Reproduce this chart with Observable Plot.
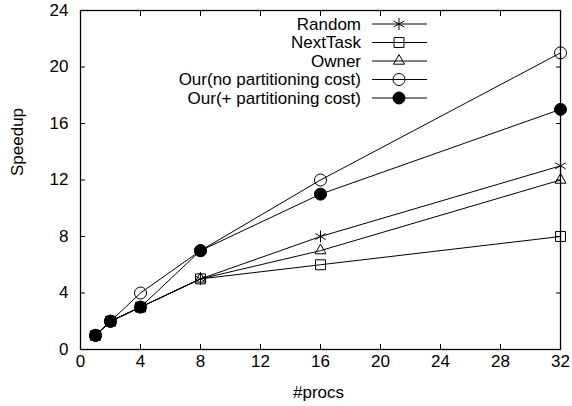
<!DOCTYPE html>
<html><head><meta charset="utf-8">
<script src="https://cdn.jsdelivr.net/npm/d3@7"></script>
<script src="https://cdn.jsdelivr.net/npm/@observablehq/plot@0.6"></script>
<style>
body{margin:0;background:#fff}
#c{position:relative;width:572px;height:406px;font-family:"Liberation Sans",Arial,sans-serif}
#leg{position:absolute;left:0;top:0}
</style>
</head><body><div id="c"></div>
<script>
const procs = [1, 2, 4, 8, 16, 32];
const seriesNames = ["Random", "NextTask", "Owner", "Our(no partitioning cost)", "Our(+ partitioning cost)"];
const random = [1, 2, 3, 5, 8, 13];
const nextTask = [1, 2, 3, 5, 6, 8];
const owner = [1, 2, 3, 5, 7, 12];
const ourNoCost = [1, 2, 4, 7, 12, 21];
const ourWithCost = [1, 2, 3, 7, 11, 17];
const xTicks = [0, 4, 8, 12, 16, 20, 24, 28, 32];
const yTicks = [0, 4, 8, 12, 16, 20, 24];
const xLabel = "#procs";
const yLabel = "Speedup";

const values = [random, nextTask, owner, ourNoCost, ourWithCost];
const symbols = ["asterisk", "square", "triangle", "circle", "circle"];
const fills = ["none", "none", "none", "none", "black"];
const radii = [5.7, 5.6, 4.1, 6, 6];

const rows = seriesNames.flatMap((s, i) => procs.map((p, j) => ({series: s, procs: p, speedup: values[i][j]})));

const font = '"Liberation Sans", Arial, sans-serif';
const chart = Plot.plot({
  width: 572, height: 406,
  marginLeft: 80, marginRight: 12, marginTop: 10, marginBottom: 57,
  style: {fontFamily: font, fontSize: "17px", color: "black", background: "white"},
  x: {domain: [0, 32]},
  y: {domain: [0, 24]},
  marks: [
    Plot.axisX({anchor: "bottom", ticks: xTicks, tickSize: -5, tickPadding: 10, label: null}),
    Plot.axisX({anchor: "top", ticks: xTicks, tickSize: -5, tickFormat: () => "", label: null}),
    Plot.axisY({anchor: "left", ticks: yTicks, tickSize: -5, tickPadding: 17, label: null}),
    Plot.axisY({anchor: "right", ticks: yTicks, tickSize: -5, tickFormat: () => "", label: null}),
    Plot.frame({stroke: "black", strokeWidth: 1.3}),
    Plot.line(rows, {x: "procs", y: "speedup", z: "series", stroke: "black", strokeWidth: 1}),
    ...seriesNames.map((s, i) => Plot.dot(rows.filter(d => d.series === s), {
      x: "procs", y: "speedup", symbol: symbols[i], r: radii[i],
      stroke: "black", fill: fills[i], strokeWidth: 1
    })),
    Plot.text([xLabel], {frameAnchor: "bottom", dy: 48, dx: -2, text: d => d}),
    Plot.text([yLabel], {frameAnchor: "left", dx: -63, dy: -4, rotate: -90, text: d => d})
  ]
});
const c = document.getElementById("c");
c.appendChild(chart);

// legend
const leg = d3.select(c).append("svg").attr("id", "leg").attr("width", 572).attr("height", 406)
  .style("font-family", font).style("font-size", "17px");
const symMap = {asterisk: d3.symbolAsterisk, square: d3.symbolSquare, triangle: d3.symbolTriangle, circle: d3.symbolCircle};
seriesNames.forEach((s, i) => {
  const yy = 24 + i * 18.5;
  const g = leg.append("g").attr("transform", `translate(0,${yy})`);
  g.append("text").attr("x", 361).attr("y", 0).attr("dy", "0.35em").attr("text-anchor", "end").text(s);
  g.append("line").attr("x1", 372).attr("x2", 427).attr("stroke", "black").attr("stroke-width", 1);
  g.append("path").attr("transform", "translate(399,0)")
    .attr("d", d3.symbol(symMap[symbols[i]], radii[i] * radii[i] * Math.PI)())
    .attr("fill", fills[i]).attr("stroke", "black").attr("stroke-width", 1);
});
</script>
</body></html>
